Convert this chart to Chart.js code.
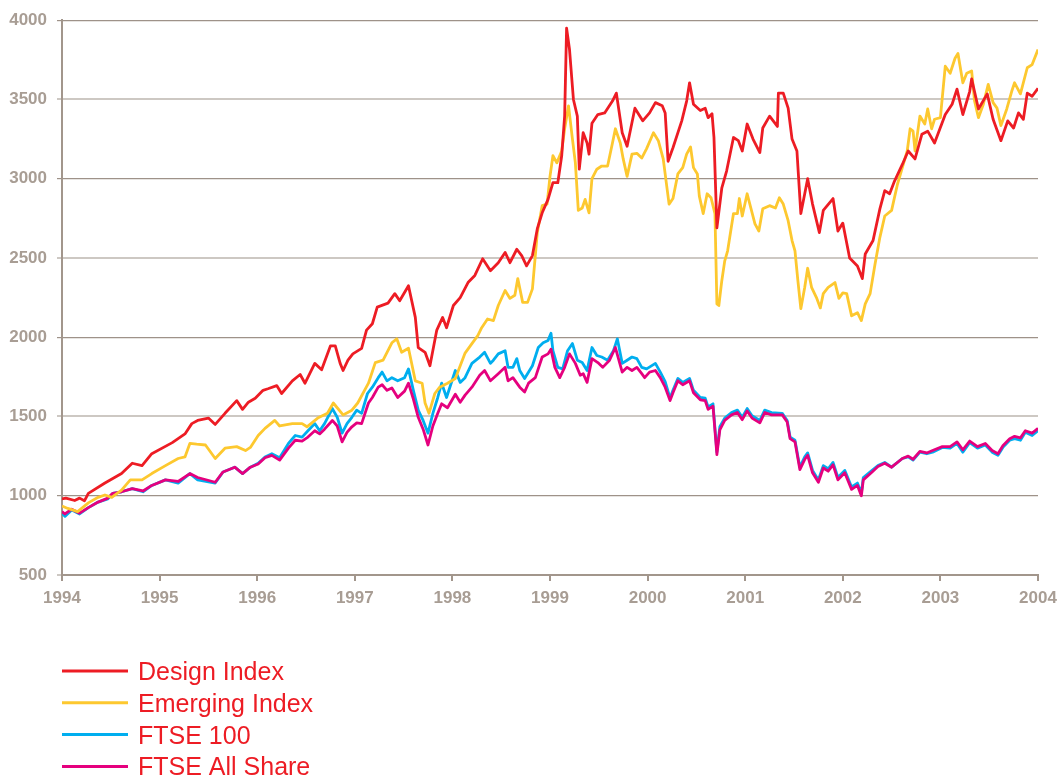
<!DOCTYPE html>
<html>
<head>
<meta charset="utf-8">
<title>Design Index vs FTSE</title>
<script src="https://cdn.jsdelivr.net/npm/chart.js@4.4.1/dist/chart.umd.min.js"></script>
<style>
  html, body { margin: 0; padding: 0; background: #fff; }
  #wrap { position: relative; width: 1058px; height: 778px; }
</style>
</head>
<body>
<div id="wrap"><canvas id="myChart" width="1058" height="778"></canvas></div>
<script>
// tick labels
const yearLabels = ['1994', '1995', '1996', '1997', '1998', '1999', '2000', '2001', '2002', '2003', '2004'];
const seriesNames = ['Design Index', 'Emerging Index', 'FTSE 100', 'FTSE All Share'];

// Design Index
const designYears = [
  1994.00, 1994.04, 1994.13, 1994.18, 1994.23, 1994.27, 1994.44, 1994.61, 1994.72, 1994.82,
  1994.92, 1995.13, 1995.26, 1995.33, 1995.39, 1995.50, 1995.57, 1995.67, 1995.79, 1995.85,
  1995.91, 1995.98, 1996.06, 1996.11, 1996.20, 1996.25, 1996.36, 1996.44, 1996.49, 1996.59,
  1996.66, 1996.75, 1996.80, 1996.85, 1996.88, 1996.93, 1996.98, 1997.07, 1997.12, 1997.18,
  1997.23, 1997.34, 1997.41, 1997.46, 1997.55, 1997.62, 1997.65, 1997.72, 1997.77, 1997.84,
  1997.90, 1997.94, 1998.01, 1998.08, 1998.16, 1998.23, 1998.31, 1998.39, 1998.47, 1998.54,
  1998.59, 1998.66, 1998.71, 1998.76, 1998.82, 1998.87, 1998.92, 1998.98, 1999.03, 1999.08,
  1999.12, 1999.15, 1999.17, 1999.20, 1999.24, 1999.28, 1999.30, 1999.34, 1999.38, 1999.40,
  1999.43, 1999.49, 1999.56, 1999.64, 1999.68, 1999.74, 1999.79, 1999.87, 1999.95, 2000.02,
  2000.08, 2000.15, 2000.18, 2000.21, 2000.26, 2000.35, 2000.40, 2000.43, 2000.47, 2000.54,
  2000.59, 2000.62, 2000.66, 2000.68, 2000.71, 2000.76, 2000.81, 2000.88, 2000.93, 2000.97,
  2001.02, 2001.08, 2001.15, 2001.18, 2001.25, 2001.33, 2001.34, 2001.39, 2001.44, 2001.48,
  2001.53, 2001.57, 2001.61, 2001.64, 2001.69, 2001.76, 2001.80, 2001.90, 2001.95, 2002.00,
  2002.07, 2002.15, 2002.20, 2002.23, 2002.31, 2002.38, 2002.43, 2002.48, 2002.53, 2002.61,
  2002.67, 2002.74, 2002.81, 2002.87, 2002.94, 2003.05, 2003.12, 2003.17, 2003.23, 2003.30,
  2003.32, 2003.39, 2003.48, 2003.54, 2003.62, 2003.69, 2003.75, 2003.80, 2003.85, 2003.89,
  2003.94, 2004.00
];
const designValues = [
  980, 985, 970, 985, 968, 1015, 1080, 1140, 1205, 1190,
  1265, 1335, 1390, 1455, 1475, 1490, 1450, 1520, 1600, 1545,
  1590, 1615, 1665, 1675, 1695, 1645, 1725, 1765, 1710, 1835,
  1795, 1945, 1945, 1835, 1790, 1855, 1895, 1930, 2045, 2085,
  2190, 2215, 2275, 2230, 2325, 2125, 1935, 1905, 1820, 2045,
  2125, 2060, 2200, 2250, 2345, 2390, 2495, 2420, 2470, 2535,
  2470, 2555, 2515, 2450, 2515, 2685, 2785, 2870, 2975, 2975,
  3145, 3395, 3950, 3815, 3500, 3395, 3060, 3290, 3225, 3155,
  3350, 3405, 3415, 3490, 3540, 3290, 3205, 3445, 3365, 3415,
  3480, 3460, 3415, 3110, 3195, 3365, 3490, 3605, 3470, 3430,
  3445, 3385, 3410, 3260, 2690, 2940, 3050, 3260, 3240, 3175,
  3345, 3250, 3165, 3320, 3395, 3330, 3540, 3540, 3445, 3250,
  3175, 2780, 2905, 3000, 2840, 2660, 2800, 2875, 2670, 2720,
  2500, 2450, 2370, 2525, 2610, 2810, 2925, 2905, 2985, 3090,
  3175, 3125, 3280, 3300, 3225, 3405, 3470, 3565, 3405, 3550,
  3630, 3440, 3535, 3375, 3240, 3365, 3320, 3415, 3375, 3540,
  3520, 3570
];

// Emerging Index
const emergingYears = [
  1994.00, 1994.06, 1994.16, 1994.27, 1994.37, 1994.44, 1994.51, 1994.61, 1994.70, 1994.82,
  1994.92, 1995.06, 1995.19, 1995.26, 1995.31, 1995.38, 1995.47, 1995.57, 1995.67, 1995.79,
  1995.88, 1995.93, 1996.01, 1996.08, 1996.18, 1996.23, 1996.36, 1996.46, 1996.51, 1996.62,
  1996.72, 1996.78, 1996.88, 1996.97, 1997.03, 1997.14, 1997.21, 1997.29, 1997.38, 1997.43,
  1997.48, 1997.55, 1997.62, 1997.69, 1997.72, 1997.76, 1997.82, 1997.87, 1997.95, 1998.03,
  1998.13, 1998.20, 1998.26, 1998.30, 1998.36, 1998.42, 1998.47, 1998.54, 1998.59, 1998.64,
  1998.67, 1998.72, 1998.77, 1998.82, 1998.87, 1998.92, 1998.97, 1999.00, 1999.03, 1999.07,
  1999.12, 1999.15, 1999.19, 1999.23, 1999.26, 1999.29, 1999.33, 1999.36, 1999.40, 1999.43,
  1999.48, 1999.53, 1999.59, 1999.64, 1999.67, 1999.72, 1999.75, 1999.79, 1999.84, 1999.89,
  1999.94, 1999.99, 2000.06, 2000.11, 2000.16, 2000.22, 2000.26, 2000.31, 2000.36, 2000.40,
  2000.44, 2000.47, 2000.51, 2000.53, 2000.57, 2000.61, 2000.65, 2000.69, 2000.71, 2000.73,
  2000.76, 2000.79, 2000.82, 2000.88, 2000.92, 2000.94, 2000.97, 2001.02, 2001.10, 2001.14,
  2001.18, 2001.25, 2001.31, 2001.35, 2001.39, 2001.44, 2001.48, 2001.51, 2001.54, 2001.57,
  2001.61, 2001.64, 2001.68, 2001.73, 2001.77, 2001.80, 2001.85, 2001.92, 2001.96, 2002.00,
  2002.04, 2002.09, 2002.15, 2002.19, 2002.23, 2002.28, 2002.33, 2002.38, 2002.43, 2002.50,
  2002.56, 2002.61, 2002.66, 2002.69, 2002.72, 2002.74, 2002.79, 2002.84, 2002.87, 2002.91,
  2002.94, 2003.00, 2003.05, 2003.10, 2003.15, 2003.18, 2003.23, 2003.27, 2003.32, 2003.35,
  2003.39, 2003.44, 2003.49, 2003.54, 2003.58, 2003.62, 2003.68, 2003.73, 2003.76, 2003.82,
  2003.89, 2003.94, 2004.00
];
const emergingValues = [
  935, 920, 900, 955, 990, 1005, 990, 1035, 1100, 1100,
  1140, 1190, 1235, 1245, 1330, 1325, 1320, 1235, 1300, 1310,
  1285, 1305, 1380, 1425, 1475, 1440, 1455, 1455, 1435, 1490,
  1520, 1585, 1510, 1540, 1585, 1710, 1840, 1855, 1965, 1990,
  1905, 1930, 1725, 1710, 1585, 1520, 1645, 1685, 1710, 1740,
  1900, 1960, 2010, 2060, 2115, 2105, 2200, 2295, 2245, 2265,
  2370, 2220, 2220, 2305, 2660, 2830, 2840, 3015, 3145, 3100,
  3175, 3315, 3460, 3250, 3100, 2800, 2815, 2870, 2785, 3000,
  3060, 3080, 3080, 3225, 3315, 3225, 3125, 3015, 3155, 3160,
  3130, 3190, 3290, 3240, 3125, 2840, 2875, 3030, 3070, 3155,
  3200, 3070, 3030, 2890, 2780, 2905, 2880, 2780, 2210, 2200,
  2355, 2480, 2545, 2780, 2780, 2875, 2765, 2905, 2715, 2670,
  2810, 2830, 2815, 2880, 2840, 2735, 2610, 2545, 2355, 2180,
  2315, 2435, 2315, 2250, 2185, 2275, 2315, 2345, 2245, 2280,
  2275, 2135, 2155, 2105, 2210, 2275, 2460, 2630, 2765, 2800,
  2965, 3070, 3175, 3315, 3300, 3175, 3395, 3345, 3440, 3315,
  3375, 3385, 3710, 3665, 3760, 3790, 3605, 3665, 3680, 3490,
  3385, 3470, 3595, 3480, 3445, 3335, 3440, 3550, 3605, 3535,
  3700, 3720, 3815
];

// FTSE 100
const ftse100Years = [
  1994.00, 1994.03, 1994.10, 1994.18, 1994.27, 1994.37, 1994.47, 1994.52, 1994.61, 1994.72,
  1994.83, 1994.92, 1995.06, 1995.19, 1995.31, 1995.39, 1995.57, 1995.65, 1995.77, 1995.85,
  1995.93, 1996.01, 1996.08, 1996.15, 1996.23, 1996.32, 1996.39, 1996.46, 1996.52, 1996.59,
  1996.64, 1996.69, 1996.77, 1996.82, 1996.87, 1996.92, 1996.97, 1997.02, 1997.07, 1997.13,
  1997.18, 1997.24, 1997.28, 1997.33, 1997.38, 1997.44, 1997.51, 1997.55, 1997.60, 1997.65,
  1997.70, 1997.75, 1997.80, 1997.85, 1997.89, 1997.94, 1998.03, 1998.08, 1998.13, 1998.20,
  1998.28, 1998.33, 1998.39, 1998.42, 1998.47, 1998.54, 1998.57, 1998.62, 1998.66, 1998.69,
  1998.74, 1998.82, 1998.88, 1998.93, 1998.98, 1999.01, 1999.03, 1999.08, 1999.13, 1999.18,
  1999.23, 1999.28, 1999.33, 1999.38, 1999.43, 1999.48, 1999.53, 1999.59, 1999.65, 1999.69,
  1999.74, 1999.79, 1999.84, 1999.89, 1999.94, 1999.99, 2000.08, 2000.13, 2000.18, 2000.23,
  2000.26, 2000.31, 2000.36, 2000.43, 2000.47, 2000.54, 2000.59, 2000.62, 2000.67, 2000.71,
  2000.74, 2000.79, 2000.86, 2000.92, 2000.97, 2001.02, 2001.07, 2001.15, 2001.20, 2001.27,
  2001.38, 2001.43, 2001.46, 2001.51, 2001.56, 2001.61, 2001.64, 2001.69, 2001.75, 2001.80,
  2001.85, 2001.90, 2001.95, 2002.02, 2002.09, 2002.15, 2002.19, 2002.21, 2002.30, 2002.36,
  2002.43, 2002.50, 2002.61, 2002.67, 2002.72, 2002.79, 2002.86, 2002.92, 2003.02, 2003.10,
  2003.17, 2003.23, 2003.30, 2003.38, 2003.46, 2003.53, 2003.59, 2003.64, 2003.71, 2003.76,
  2003.82, 2003.87, 2003.94, 2004.00
];
const ftse100Values = [
  890, 870, 910, 885, 925, 960, 980, 1015, 1025, 1045,
  1025, 1065, 1100, 1080, 1140, 1100, 1080, 1150, 1180, 1140,
  1180, 1205, 1245, 1265, 1240, 1330, 1380, 1370, 1410, 1455,
  1410, 1455, 1550, 1495, 1395, 1455, 1495, 1540, 1520, 1645,
  1685, 1745, 1780, 1725, 1745, 1725, 1745, 1800, 1665, 1540,
  1475, 1395, 1520, 1620, 1710, 1620, 1790, 1715, 1745, 1835,
  1875, 1905, 1835, 1855, 1895, 1915, 1810, 1810, 1865, 1790,
  1740, 1820, 1935, 1965, 1980, 2025, 1915, 1810, 1800, 1915,
  1960, 1855, 1840, 1790, 1935, 1885, 1875, 1855, 1915, 1990,
  1835, 1855, 1875, 1865, 1810, 1800, 1835, 1780, 1720, 1615,
  1665, 1740, 1715, 1740, 1665, 1620, 1615, 1560, 1580, 1275,
  1435, 1490, 1525, 1540, 1495, 1550, 1505, 1475, 1540, 1525,
  1520, 1475, 1370, 1350, 1180, 1245, 1270, 1160, 1100, 1190,
  1170, 1210, 1115, 1160, 1055, 1080, 1015, 1115, 1160, 1190,
  1210, 1180, 1235, 1245, 1225, 1275, 1265, 1275, 1305, 1300,
  1330, 1275, 1335, 1300, 1320, 1275, 1255, 1305, 1350, 1360,
  1350, 1400, 1380, 1410
];

// FTSE All Share
const allShareYears = [
  1994.00, 1994.03, 1994.10, 1994.18, 1994.27, 1994.37, 1994.47, 1994.52, 1994.61, 1994.72,
  1994.83, 1994.92, 1995.06, 1995.19, 1995.31, 1995.39, 1995.57, 1995.65, 1995.77, 1995.85,
  1995.93, 1996.01, 1996.08, 1996.15, 1996.23, 1996.32, 1996.39, 1996.46, 1996.52, 1996.59,
  1996.64, 1996.69, 1996.77, 1996.82, 1996.87, 1996.92, 1996.97, 1997.02, 1997.07, 1997.14,
  1997.18, 1997.24, 1997.28, 1997.33, 1997.38, 1997.44, 1997.51, 1997.55, 1997.60, 1997.65,
  1997.70, 1997.75, 1997.80, 1997.85, 1997.89, 1997.95, 1998.03, 1998.08, 1998.13, 1998.20,
  1998.28, 1998.33, 1998.39, 1998.47, 1998.54, 1998.57, 1998.62, 1998.69, 1998.74, 1998.78,
  1998.85, 1998.92, 1998.98, 1999.01, 1999.05, 1999.10, 1999.15, 1999.20, 1999.26, 1999.31,
  1999.34, 1999.38, 1999.43, 1999.49, 1999.54, 1999.61, 1999.67, 1999.74, 1999.79, 1999.84,
  1999.89, 1999.94, 1999.97, 2000.02, 2000.08, 2000.13, 2000.18, 2000.23, 2000.26, 2000.31,
  2000.36, 2000.43, 2000.47, 2000.54, 2000.59, 2000.62, 2000.67, 2000.71, 2000.74, 2000.79,
  2000.86, 2000.92, 2000.97, 2001.02, 2001.07, 2001.15, 2001.20, 2001.27, 2001.38, 2001.43,
  2001.46, 2001.51, 2001.56, 2001.61, 2001.64, 2001.69, 2001.75, 2001.80, 2001.85, 2001.90,
  2001.95, 2002.02, 2002.09, 2002.15, 2002.19, 2002.21, 2002.30, 2002.36, 2002.43, 2002.50,
  2002.61, 2002.67, 2002.72, 2002.79, 2002.86, 2002.92, 2003.02, 2003.10, 2003.17, 2003.23,
  2003.30, 2003.38, 2003.46, 2003.53, 2003.59, 2003.64, 2003.71, 2003.76, 2003.82, 2003.87,
  2003.94, 2004.00
];
const allShareValues = [
  900, 885, 915, 890, 925, 960, 985, 1015, 1025, 1045,
  1030, 1065, 1100, 1090, 1140, 1115, 1085, 1150, 1180, 1140,
  1180, 1200, 1240, 1255, 1225, 1300, 1350, 1345, 1370, 1410,
  1390, 1420, 1475, 1440, 1340, 1400, 1435, 1460, 1455, 1585,
  1620, 1685, 1700, 1665, 1680, 1620, 1660, 1710, 1610, 1495,
  1420, 1320, 1440, 1520, 1580, 1555, 1640, 1590, 1635, 1685,
  1760, 1790, 1725, 1770, 1810, 1725, 1745, 1685, 1655, 1710,
  1745, 1875, 1895, 1925, 1810, 1745, 1810, 1895, 1835, 1760,
  1770, 1715, 1865, 1840, 1810, 1855, 1935, 1780, 1810, 1790,
  1810, 1770, 1745, 1780, 1790, 1745, 1685, 1600, 1650, 1725,
  1700, 1725, 1650, 1605, 1600, 1545, 1565, 1260, 1415, 1475,
  1510, 1525, 1480, 1535, 1490, 1460, 1525, 1510, 1510, 1465,
  1360, 1340, 1165, 1230, 1255, 1145, 1085, 1175, 1155, 1195,
  1100, 1145, 1040, 1065, 1000, 1100, 1150, 1185, 1205, 1180,
  1235, 1250, 1230, 1280, 1270, 1285, 1310, 1310, 1340, 1290,
  1345, 1310, 1330, 1285, 1265, 1315, 1360, 1375, 1365, 1410,
  1395, 1425
];

const seriesColors = ['#ed1c24', '#fdc82f', '#00aeef', '#e5007e'];
const tickColor = '#a89d94';
const axisColor = '#a2968c';
const darkGrid = '#9e9289';
const lightGrid = '#cdc8c3';

function toPoints(xs, ys) {
  return xs.map((x, i) => ({ x: x, y: ys[i] }));
}

// legend down the bottom left, drawn on the same canvas
const bottomLegend = {
  id: 'bottomLegend',
  afterDraw(chart) {
    const ctx = chart.ctx;
    chart.data.datasets.forEach((ds, i) => {
      const y = 671 + i * 31.8;
      ctx.save();
      ctx.strokeStyle = ds.borderColor;
      ctx.lineWidth = 3;
      ctx.beginPath();
      ctx.moveTo(62, y);
      ctx.lineTo(128, y);
      ctx.stroke();
      ctx.fillStyle = seriesColors[0];
      ctx.font = '25px "Liberation Sans", Arial, sans-serif';
      ctx.textBaseline = 'alphabetic';
      ctx.fillText(ds.label, 138, y + 9);
      ctx.restore();
    });
  }
};

const lineStyle = { borderWidth: 2.8, pointRadius: 0, tension: 0, fill: false, borderJoinStyle: 'round' };
const tickFont = { family: '"Liberation Sans", Arial, sans-serif', size: 17, weight: 'bold' };

const myChartRef = document.getElementById('myChart').getContext('2d');
new Chart(myChartRef, {
  type: 'line',
  data: {
    datasets: [
      { label: seriesNames[0], data: toPoints(designYears, designValues), borderColor: seriesColors[0], order: 1, ...lineStyle },
      { label: seriesNames[1], data: toPoints(emergingYears, emergingValues), borderColor: seriesColors[1], order: 2, ...lineStyle },
      { label: seriesNames[2], data: toPoints(ftse100Years, ftse100Values), borderColor: seriesColors[2], order: 4, ...lineStyle },
      { label: seriesNames[3], data: toPoints(allShareYears, allShareValues), borderColor: seriesColors[3], order: 3, ...lineStyle }
    ]
  },
  options: {
    responsive: false,
    animation: false,
    layout: { padding: { top: 19, right: 20, bottom: 158, left: 0 } },
    plugins: { legend: { display: false }, tooltip: { enabled: false } },
    scales: {
      x: {
        type: 'linear',
        min: 1994,
        max: 2004,
        afterFit: s => { s.height = 45; s.paddingRight = 0; s.paddingLeft = 0; },
        grid: { drawOnChartArea: false, tickLength: 6, color: axisColor, lineWidth: 2 },
        border: { color: axisColor, width: 2 },
        ticks: {
          stepSize: 1,
          padding: 7,
          color: tickColor,
          font: tickFont,
          callback: v => yearLabels[Math.round(v) - 1994]
        }
      },
      y: {
        min: 500,
        max: 4000,
        afterFit: s => { s.width = 62; },
        grid: {
          tickLength: 5,
          color: c => (c.tick && c.tick.value % 1000 === 0) ? darkGrid : lightGrid,
          lineWidth: c => (c.tick && c.tick.value % 1000 === 0) ? 1.2 : 2
        },
        border: { color: axisColor, width: 2 },
        ticks: {
          stepSize: 500,
          padding: 10,
          color: tickColor,
          font: tickFont,
          callback: v => String(v)
        }
      }
    }
  },
  plugins: [bottomLegend]
});
</script>
</body>
</html>
